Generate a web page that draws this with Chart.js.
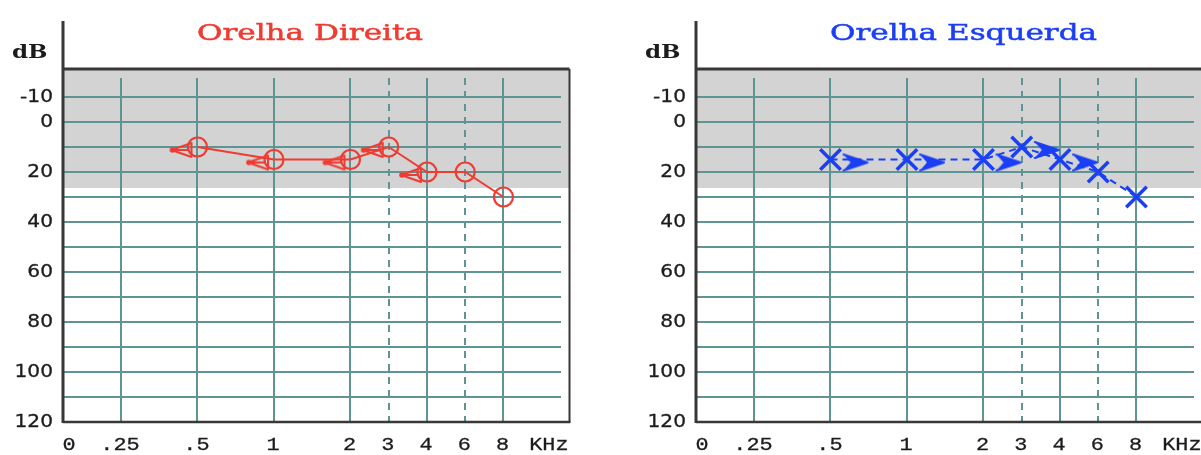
<!DOCTYPE html>
<html>
<head>
<meta charset="utf-8">
<title>Audiograma</title>
<script src="https://cdn.jsdelivr.net/npm/chart.js@4.4.1/dist/chart.umd.min.js"></script>
<style>
  html, body { margin: 0; padding: 0; background: #fff; overflow: hidden; width: 1201px; height: 455px; }
  .panel { position: absolute; top: 0; width: 600px; height: 455px; }
  #panelRight { left: 0; }
  #panelLeft { left: 633px; }
</style>
</head>
<body>
<div class="panel" id="panelRight"><canvas id="chartRight" width="600" height="455"></canvas></div>
<div class="panel" id="panelLeft"><canvas id="chartLeft" width="600" height="455"></canvas></div>
<script>
// Test frequencies (kHz) and thresholds (dB HL)
const frequencies = [0.5, 1, 2, 3, 4, 6, 8];
const rightAir  = [10, 15, 15, 10, 20, 20, 30];
const rightBone = [10, 15, 15, 10, 20, null, null];
const leftAir   = [15, 15, 15, 10, 15, 20, 30];
const leftBone  = [15, 15, 15, 10, 15, null, null];

// Axis ticks
const freqTickValues = [0.25, 0.5, 1, 2, 3, 4, 6, 8];
const freqTickLabels = ['.25', '.5', '1', '2', '3', '4', '6', '8'];
const halfOctaveFreqs = [3, 6];
const dbTickValues = [-10, 0, 20, 40, 60, 80, 100, 120];
const dbGridValues = [-10, 0, 10, 20, 30, 40, 50, 60, 70, 80, 90, 100, 110];
const normalLimitDb = 26.4;

const GRID = '#5f9494';
const FRAME = '#383838';
const RED = '#ef3b31';
const BLUE = '#1b3ff5';
const TEXT = '#1c1c1c';

// Audiogram frequency position: octaves above 250 Hz, half-octave
// frequencies (3 and 6 kHz) sit halfway between their neighbours.
function octave(f) {
  const o = Math.floor(Math.log2(f / 0.25) + 1e-9);
  const lo = 0.25 * Math.pow(2, o);
  return o + (f - lo) / lo;
}

// Bone-conduction symbols: "<" left of the right-ear point, ">" right of the left-ear point
function boneMark(color, side) {
  const c = document.createElement('canvas');
  c.width = 80; c.height = 40;
  const g = c.getContext('2d');
  g.translate(40, 20);
  g.strokeStyle = color; g.fillStyle = color;
  g.lineWidth = 2; g.lineJoin = 'round'; g.lineCap = 'round';
  if (side === 'right') {
    g.beginPath(); g.moveTo(-26, 3); g.lineTo(-6, -4); g.lineTo(-6, 10); g.closePath(); g.stroke();
    g.beginPath(); g.moveTo(-24, 3); g.lineTo(-10, 3); g.stroke();
    g.beginPath(); g.arc(-25, 3, 2.8, 0, Math.PI * 2); g.fill();
  } else {
    g.beginPath(); g.moveTo(13, -5); g.lineTo(37, 3); g.lineTo(13, 11); g.lineTo(20, 3); g.closePath(); g.fill();
    g.beginPath(); g.moveTo(13, -5); g.lineTo(37, 3); g.lineTo(13, 11); g.stroke();
  }
  return c;
}

function textStretched(ctx, text, x, y, font, color, sx, align, weight) {
  ctx.save();
  ctx.font = font; ctx.fillStyle = color; ctx.strokeStyle = color;
  ctx.textAlign = align; ctx.textBaseline = 'alphabetic';
  ctx.translate(x, y); ctx.scale(sx, 1);
  ctx.fillText(text, 0, 0);
  if (weight) { ctx.lineWidth = weight; ctx.strokeText(text, 0, 0); }
  ctx.restore();
}

const audiogramFrame = {
  id: 'audiogramFrame',
  beforeDraw(chart) {
    const { ctx, chartArea: a, scales } = chart;
    const top = a.top - 9, right = a.right + 8.5;
    ctx.save();
    ctx.fillStyle = '#d3d3d3';
    ctx.fillRect(a.left, top, right - a.left, scales.y.getPixelForValue(normalLimitDb) - top);
    ctx.restore();
  },
  afterDraw(chart, args, opts) {
    const { ctx, chartArea: a, scales } = chart;
    const top = a.top - 9, right = a.right + 8.5;
    ctx.save();
    ctx.strokeStyle = FRAME;
    ctx.lineWidth = 3;
    ctx.beginPath(); ctx.moveTo(a.left, top); ctx.lineTo(right, top); ctx.stroke();
    ctx.beginPath(); ctx.moveTo(a.left, a.top - 57); ctx.lineTo(a.left, a.bottom + 1); ctx.stroke();
    ctx.lineWidth = 2.5;
    ctx.beginPath(); ctx.moveTo(a.left, a.bottom); ctx.lineTo(right + 1, a.bottom); ctx.stroke();
    ctx.lineWidth = 2;
    ctx.beginPath(); ctx.moveTo(right, top); ctx.lineTo(right, a.bottom); ctx.stroke();
    ctx.restore();

    // title and unit captions
    textStretched(ctx, opts.title, a.left + 134, 39.5, '23px "DejaVu Serif"', opts.color, 1.35, 'left', 0.5);
    textStretched(ctx, 'dB', a.left - 51, 58, 'bold 18px "DejaVu Serif"', TEXT, 1.28, 'left');

    // dB tick labels
    dbTickValues.forEach(v => {
      textStretched(ctx, String(v), a.left - 10, scales.y.getPixelForValue(v) + 5, '18px "DejaVu Sans"', TEXT, 1.12, 'right', 0.3);
    });
    // frequency tick labels
    const fx = '19px "Liberation Mono"';
    textStretched(ctx, '0', a.left + 6, a.bottom + 28, fx, TEXT, 1.15, 'center', 0.3);
    freqTickValues.forEach((f, i) => {
      textStretched(ctx, freqTickLabels[i], scales.x.getPixelForValue(octave(f)) - 1, a.bottom + 28, fx, TEXT, 1.15, 'center', 0.3);
    });
    textStretched(ctx, 'KHz', right - 1, a.bottom + 28, fx, TEXT, 1.15, 'right', 0.3);
  }
};

function audiogram(canvasId, title, color, air, bone, airMark, boneSide, dashed) {
  const pts = vals => frequencies.map((f, i) => ({ x: octave(f), y: vals[i] })).filter(p => p.y !== null);
  const airSet = {
    data: pts(air),
    showLine: true,
    borderColor: color,
    borderWidth: 2,
    borderDash: dashed ? [7, 5] : [],
    pointStyle: airMark,
    pointRadius: airMark === 'circle' ? 9.5 : 14.5,
    pointBorderWidth: airMark === 'circle' ? 2.2 : 3.5,
    pointBorderColor: color,
    pointBackgroundColor: 'rgba(0,0,0,0)'
  };
  const boneSet = {
    data: pts(bone),
    showLine: false,
    pointStyle: boneMark(color, boneSide),
    pointRadius: 10,
    borderColor: color,
    backgroundColor: color
  };
  return new Chart(document.getElementById(canvasId), {
    type: 'scatter',
    data: { datasets: [boneSet, airSet] },
    options: {
      responsive: false,
      animation: false,
      events: [],
      layout: { padding: { left: 63, top: 78, right: 39, bottom: 33 } },
      plugins: {
        legend: { display: false },
        tooltip: { enabled: false },
        audiogramFrame: { title, color }
      },
      scales: {
        x: {
          type: 'linear',
          min: -0.758, max: 5.752,
          afterBuildTicks: s => { s.ticks = freqTickValues.map(f => ({ value: octave(f) })); },
          ticks: { display: false },
          grid: { color: GRID, lineWidth: 2, drawTicks: false },
          border: {
            display: false,
            dash: c => (c.tick && halfOctaveFreqs.some(f => Math.abs(octave(f) - c.tick.value) < 1e-6)) ? [7, 6] : []
          }
        },
        y: {
          type: 'linear',
          reverse: true,
          min: -17.6, max: 120,
          afterBuildTicks: s => { s.ticks = dbGridValues.map(v => ({ value: v })); },
          ticks: { display: false },
          grid: { color: GRID, lineWidth: 2, drawTicks: false },
          border: { display: false }
        }
      }
    },
    plugins: [audiogramFrame]
  });
}

audiogram('chartRight', 'Orelha Direita', RED, rightAir, rightBone, 'circle', 'right', false);
audiogram('chartLeft', 'Orelha Esquerda', BLUE, leftAir, leftBone, 'crossRot', 'left', true);
</script>
</body>
</html>
